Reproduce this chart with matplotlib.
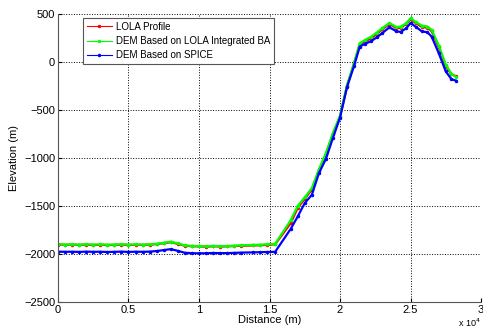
import numpy as np
import matplotlib.pyplot as plt

plt.rcParams['font.family'] = ['Liberation Sans', 'DejaVu Sans']

# distance along the profile (m)
dist = [0, 500, 1000, 1500, 2000, 2500, 3000, 3500, 4000, 4500, 5000, 5500,
        6000, 6500, 7000, 7500, 8000, 8500, 9000, 9500, 10000, 10500, 11000,
        11500, 12000, 12500, 13000, 13800, 14300, 14800, 15400,
        16500, 17000, 17500, 18000, 18500, 19000, 19500, 20000, 20500, 21000,
        21400, 21800, 22200, 22600, 23000, 23500, 24000, 24300, 24700, 25000,
        25400, 25800, 26200, 26500, 27000, 27500, 27900, 28200]

lola = [-1902, -1905, -1903, -1906, -1904, -1907, -1905, -1908, -1906, -1904,
        -1907, -1905, -1906, -1904, -1898, -1888, -1878, -1895, -1915, -1920,
        -1922, -1925, -1920, -1923, -1921, -1918, -1915, -1912, -1910, -1906,
        -1900,
        -1680, -1520, -1425, -1330, -1135, -960, -750, -570, -250, -15,
        185, 215, 245, 290, 340, 395, 350, 355, 395, 445,
        400, 365, 355, 320, 155, -45, -130, -148]

dem_ba = [-1900, -1902, -1901, -1903, -1900, -1902, -1901, -1903, -1902, -1900,
          -1902, -1901, -1902, -1900, -1894, -1884, -1872, -1890, -1912, -1916,
          -1918, -1920, -1917, -1919, -1918, -1914, -1910, -1906, -1904, -1900,
          -1895,
          -1650, -1500, -1410, -1315, -1120, -950, -740, -560, -240, -10,
          195, 230, 262, 305, 352, 405, 362, 368, 402, 455,
          412, 378, 368, 333, 170, -30, -125, -155]

dem_spice = [-1976, -1978, -1977, -1979, -1976, -1978, -1977, -1980, -1978, -1976,
             -1979, -1977, -1978, -1976, -1970, -1960, -1950, -1968, -1988, -1992,
             -1994, -1993, -1990, -1992, -1991, -1989, -1986, -1984, -1982, -1980,
             -1978,
             -1740, -1610, -1470, -1385, -1160, -1010, -790, -580, -260, -40,
             160, 190, 215, 255, 300, 360, 318, 312, 350, 405,
             362, 318, 308, 262, 90, -100, -180, -195]

xticks = [0, 5000, 10000, 15000, 20000, 25000, 30000]
xticklabels = ['0', '0.5', '1', '1.5', '2', '2.5', '3']
yticks = [-2500, -2000, -1500, -1000, -500, 0, 500]

fig = plt.figure(figsize=(4.83, 3.3), dpi=100)
ax = fig.add_axes([0.120, 0.085, 0.876, 0.873])

ax.plot(dist, lola, '.-', color='red', lw=1.6, ms=3, label='LOLA Profile')
ax.plot(dist, dem_ba, '.-', color='#00ff00', lw=1.6, ms=3,
        label='DEM Based on LOLA Integrated BA')
ax.plot(dist, dem_spice, '.-', color='blue', lw=1.6, ms=3,
        label='DEM Based on SPICE')

ax.set_xlim(0, 30000)
ax.set_ylim(-2500, 500)
ax.set_xticks(xticks)
ax.set_xticklabels(xticklabels)
ax.set_yticks(yticks)
ax.tick_params(direction='in', length=3, labelsize=8, pad=2)
ax.grid(True, color='black', linestyle=':', linewidth=0.7)
ax.spines['top'].set_visible(False)
ax.spines['right'].set_visible(False)
ax.spines['left'].set_color('#555555')
ax.spines['bottom'].set_color('#555555')

ax.set_xlabel('Distance (m)', fontsize=8, labelpad=0)
ax.set_ylabel('Elevation (m)', fontsize=8, labelpad=4)
fig.text(0.972, 0.003, r'x 10$^4$', fontsize=6.5, ha='center', va='bottom')

leg = ax.legend(loc='upper left', bbox_to_anchor=(0.06, 0.985), fontsize=7,
                fancybox=False, framealpha=1, edgecolor='#555555',
                handlelength=2.6, borderpad=0.35, labelspacing=0.45,
                handletextpad=0.4, borderaxespad=0)
leg.get_frame().set_linewidth(0.8)
for h in leg.get_lines():
    h.set_linewidth(0.8)

fig.savefig('out.png', dpi=100)
